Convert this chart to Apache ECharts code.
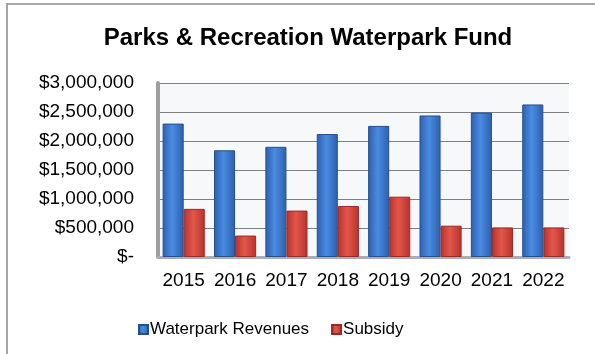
<!DOCTYPE html>
<html>
<head>
<meta charset="utf-8">
<script src="https://cdn.jsdelivr.net/npm/echarts@6/dist/echarts.min.js"></script>
<style>
  html, body { margin: 0; padding: 0; background: #ffffff; }
  #chart { width: 595px; height: 354px; }
</style>
</head>
<body>
<div id="chart"></div>
<script>
// Fiscal years shown on the category axis
var years = ['2015', '2016', '2017', '2018', '2019', '2020', '2021', '2022'];
// Annual waterpark revenues (USD)
var waterparkRevenues = [2300000, 1840000, 1900000, 2120000, 2260000, 2440000, 2490000, 2630000];
// General fund subsidy (USD)
var subsidy = [830000, 370000, 800000, 880000, 1040000, 540000, 510000, 510000];
// Value axis ticks
var yMin = 0, yMax = 3000000, yStep = 500000;

function money(v) {
  if (v === 0) return '$-';
  return '$' + v.toString().replace(/\B(?=(\d{3})+(?!\d))/g, ',');
}

function shaded(edge, mid) {
  return new echarts.graphic.LinearGradient(0, 0, 1, 0, [
    { offset: 0, color: edge },
    { offset: 0.45, color: mid },
    { offset: 1, color: edge }
  ]);
}

var chart = echarts.init(document.getElementById('chart'), null, { renderer: 'canvas' });

chart.setOption({
  animation: false,
  backgroundColor: '#ffffff',
  textStyle: { fontFamily: 'Liberation Sans, Arial, sans-serif' },
  title: {
    text: 'Parks & Recreation Waterpark Fund',
    left: 303,
    textAlign: 'center',
    top: 21,
    textStyle: { fontSize: 24, fontWeight: 'bold', color: '#000000', fontFamily: 'Liberation Sans, Arial, sans-serif' }
  },
  graphic: [
    {
      type: 'rect',
      shape: { x: 7, y: 4, width: 700, height: 500 },
      style: { fill: 'none', stroke: '#a6a6a6', lineWidth: 2 },
      silent: true,
      z: -1
    }
  ],
  legend: {
    data: ['Waterpark Revenues', 'Subsidy'],
    left: 133,
    top: 316,
    itemWidth: 9,
    itemHeight: 9,
    itemGap: 22,
    icon: 'rect',
    textStyle: { fontSize: 17, color: '#000000', padding: [0, 0, 0, -3] }
  },
  grid: {
    left: 158,
    right: 26,
    top: 83,
    bottom: 97,
    show: true,
    backgroundColor: '#f7f8fa',
    borderWidth: 0
  },
  xAxis: {
    type: 'category',
    data: years,
    axisTick: { show: false },
    axisLine: { show: true, lineStyle: { color: '#a9adb5', width: 3 } },
    axisLabel: { fontSize: 19, color: '#000000', margin: 14, interval: 0 }
  },
  yAxis: {
    type: 'value',
    min: yMin,
    max: yMax,
    interval: yStep,
    axisLine: { show: true, lineStyle: { color: '#a0a0a0', width: 4 } },
    axisTick: { show: false },
    splitLine: { show: true, lineStyle: { color: '#7f7f7f', width: 1 } },
    axisLabel: { fontSize: 19, color: '#000000', margin: 24, formatter: money }
  },
  series: [
    {
      name: 'Waterpark Revenues',
      type: 'bar',
      data: waterparkRevenues,
      barGap: '0%',
      barCategoryGap: '18%',
      itemStyle: { color: shaded('#2c5fae', '#4a8ce2'), borderColor: '#24508f', borderWidth: 1 }
    },
    {
      name: 'Subsidy',
      type: 'bar',
      data: subsidy,
      itemStyle: { color: shaded('#b8322b', '#e2574c'), borderColor: '#9a2a24', borderWidth: 1 }
    }
  ],
  color: ['#4f81bd', '#c0504d']
});
</script>
</body>
</html>
